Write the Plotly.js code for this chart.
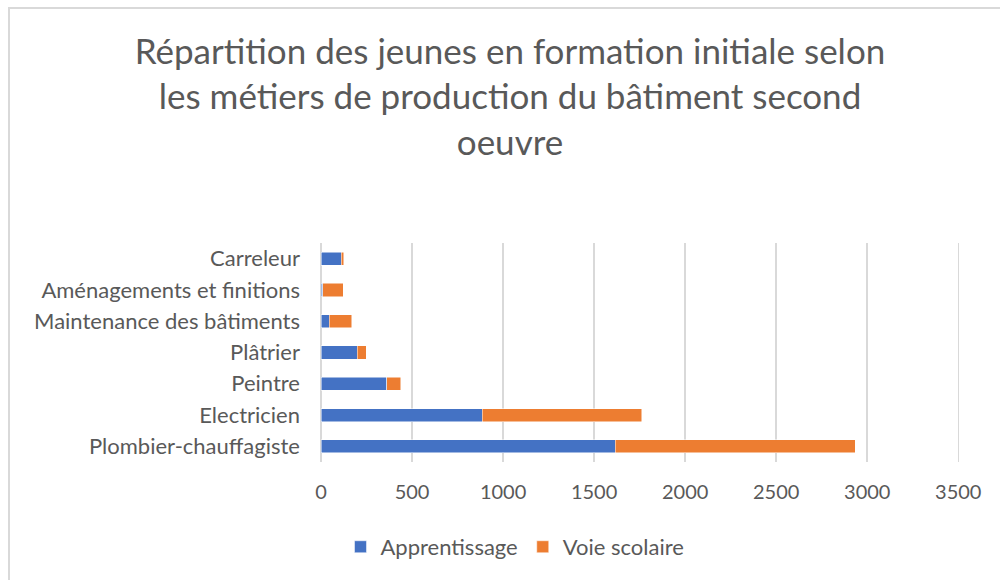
<!DOCTYPE html>
<html>
<head>
<meta charset="utf-8">
<script src="https://cdn.plot.ly/plotly-3.0.1.min.js"></script>
<style>
html,body{margin:0;padding:0;background:#fff;overflow:hidden;}
#wrap{position:relative;width:1000px;height:580px;overflow:hidden;}
#chart{width:1000px;height:580px;}
#frame{position:absolute;left:8px;top:7px;width:1100px;height:700px;border-left:2px solid #d9d9d9;border-top:2px solid #d9d9d9;pointer-events:none;}
</style>
</head>
<body>
<div id="wrap"><div id="chart"></div><div id="frame"></div></div>
<script>
const categories = ["Plombier-chauffagiste","Electricien","Peintre","Plâtrier","Maintenance des bâtiments","Aménagements et finitions","Carreleur"];
const apprentissage = [1615, 885, 360, 200, 46, 10, 110];
const voieScolaire = [1320, 876, 78, 48, 123, 113, 15];
const xTicks = [0,500,1000,1500,2000,2500,3000,3500];
const titleText = "Répartition des jeunes en formation initiale selon<br>les métiers de production du bâtiment second<br>oeuvre";

const fontFam = "Lato, 'Open Sans', sans-serif";
const data = [
  {type:"bar", orientation:"h", name:"Apprentissage", y:categories, x:apprentissage,
   marker:{color:"#4472c4", line:{color:"#ffffff", width:0.5}}},
  {type:"bar", orientation:"h", name:"Voie scolaire", y:categories, x:voieScolaire,
   marker:{color:"#ed7d31", line:{color:"#ffffff", width:0.5}}}
];
const layout = {
  width:1000, height:580,
  barmode:"stack", bargap:0.58,
  paper_bgcolor:"#ffffff", plot_bgcolor:"#ffffff",
  margin:{l:321, r:39, t:243, b:118},
  font:{family:fontFam, color:"#595959", size:20},
  title:{text:titleText, x:0.51, xanchor:"center", y:0.89, yanchor:"top",
         font:{family:fontFam, size:35, color:"#595959"}},
  xaxis:{range:[0,3515], tickvals:xTicks, ticktext:xTicks.map(String),
         showgrid:true, gridcolor:"#d9d9d9", gridwidth:1.5, zeroline:true, zerolinecolor:"#d9d9d9", zerolinewidth:1.5,
         showline:false, ticks:"", ticklabelstandoff:16, tickfont:{size:20, color:"#595959"}, fixedrange:true},
  yaxis:{type:"category", showgrid:false, zeroline:false, showline:false, ticks:"", ticklabelstandoff:20,
         tickfont:{size:22, color:"#595959"}},
  legend:{orientation:"h", xref:"container", x:0.515, xanchor:"center", yref:"container", y:0.057, yanchor:"middle",
          font:{size:22, color:"#595959"}, itemwidth:30, traceorder:"normal"},
  showlegend:true
};
Plotly.newPlot("chart", data, layout, {displayModeBar:false, staticPlot:true});
</script>
</body>
</html>
